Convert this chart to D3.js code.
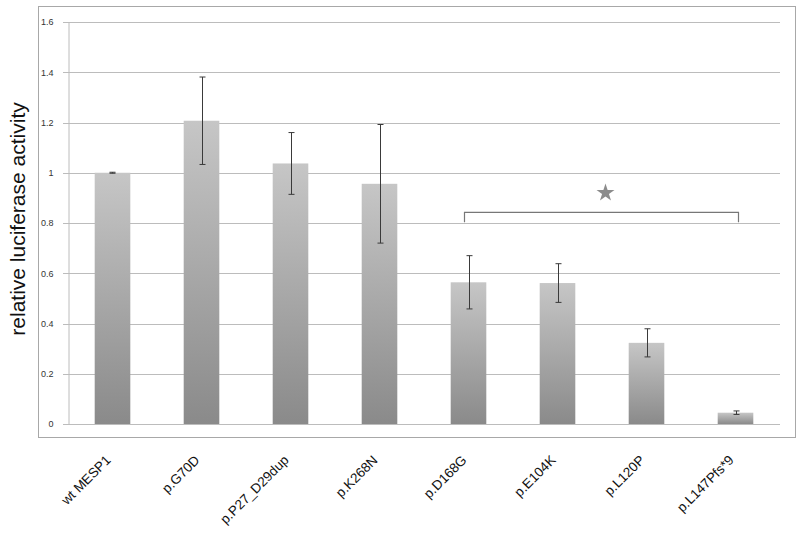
<!DOCTYPE html>
<html>
<head>
<meta charset="utf-8">
<script src="https://cdn.jsdelivr.net/npm/d3@7"></script>
<style>
  body { margin: 0; background: #fff; }
  svg { display: block; font-family: "Liberation Sans", Arial, sans-serif; }
</style>
</head>
<body>
<svg id="chart" width="800" height="533"></svg>
<script>
const categories = ["wt MESP1", "p.G70D", "p.P27_D29dup", "p.K268N", "p.D168G", "p.E104K", "p.L120P", "p.L147Pfs*9"];
const values = [1.0, 1.207, 1.037, 0.956, 0.564, 0.561, 0.323, 0.045];
const errors = [0.002, 0.174, 0.123, 0.236, 0.106, 0.077, 0.056, 0.007];
const yTicks = [0, 0.2, 0.4, 0.6, 0.8, 1, 1.2, 1.4, 1.6];
const bracket = { from: "p.D168G", to: "p.L147Pfs*9", level: 0.842, foot: 0.803, star: 0.92 };

const svg = d3.select("#chart");
const margin = { top: 22, right: 20, bottom: 109, left: 68 };
const width = 800, height = 533;

// outer chart frame
svg.append("rect")
  .attr("x", 38.5).attr("y", 6.5)
  .attr("width", 757).attr("height", 431)
  .attr("fill", "none").attr("stroke", "#a8a8a8");

const x = d3.scaleBand()
  .domain(categories)
  .range([margin.left, width - margin.right])
  .paddingInner(0.6).paddingOuter(0.3);

const y = d3.scaleLinear()
  .domain([0, 1.6])
  .range([height - margin.bottom, margin.top]);

// gradient for the bars
const grad = svg.append("defs").append("linearGradient")
  .attr("id", "barGrad").attr("x1", 0).attr("y1", 0).attr("x2", 0).attr("y2", 1);
grad.append("stop").attr("offset", "0%").attr("stop-color", "#c6c6c6");
grad.append("stop").attr("offset", "100%").attr("stop-color", "#8a8a8a");

// gridlines
svg.append("g")
  .selectAll("line")
  .data(yTicks)
  .join("line")
  .attr("x1", margin.left - 5).attr("x2", width - margin.right)
  .attr("y1", d => Math.round(y(d)) + 0.5).attr("y2", d => Math.round(y(d)) + 0.5)
  .attr("stroke", "#bcbcbc");

// y axis
const yAxis = svg.append("g")
  .attr("transform", `translate(${margin.left + 0.5},0)`)
  .call(d3.axisLeft(y).tickValues(yTicks).tickSize(0).tickPadding(15).tickFormat(d3.format("")));
yAxis.select(".domain").attr("stroke", "#bcbcbc");
yAxis.selectAll("text").attr("font-size", 9).attr("fill", "#333")
  .attr("font-family", "'Liberation Sans', Arial, sans-serif");

// bars
svg.append("g")
  .selectAll("rect")
  .data(categories)
  .join("rect")
  .attr("x", d => x(d))
  .attr("y", (d, i) => y(values[i]))
  .attr("width", x.bandwidth())
  .attr("height", (d, i) => y(0) - y(values[i]))
  .attr("fill", "url(#barGrad)");

// error bars
const eb = svg.append("g").attr("stroke", "#3a3a3a").attr("stroke-width", 1);
categories.forEach((c, i) => {
  const cx = Math.round(x(c) + x.bandwidth() / 2) + 0.5;
  const top = y(values[i] + errors[i]), bot = y(values[i] - errors[i]);
  eb.append("line").attr("x1", cx).attr("x2", cx).attr("y1", top).attr("y2", bot);
  eb.append("line").attr("x1", cx - 3).attr("x2", cx + 3).attr("y1", top).attr("y2", top);
  eb.append("line").attr("x1", cx - 3).attr("x2", cx + 3).attr("y1", bot).attr("y2", bot);
});

// significance bracket + star
const bx1 = x(bracket.from) + x.bandwidth() / 2 - 4;
const bx2 = x(bracket.to) + x.bandwidth() / 2 + 3;
svg.append("path")
  .attr("d", `M${bx1},${y(bracket.foot)}V${y(bracket.level)}H${bx2}V${y(bracket.foot)}`)
  .attr("fill", "none").attr("stroke", "#777").attr("stroke-width", 1.2);
svg.append("path")
  .attr("d", d3.symbol(d3.symbolStar, 100)())
  .attr("transform", `translate(${(bx1 + bx2) / 2 + 4},${y(bracket.star)})`)
  .attr("fill", "#8c8c8c");

// x labels
svg.append("g")
  .selectAll("text")
  .data(categories)
  .join("text")
  .attr("transform", d => `translate(${x(d) + x.bandwidth() / 2 - 1},${height - margin.bottom + 37}) rotate(-45)`)
  .attr("text-anchor", "end")
  .attr("font-size", 13.5)
  .attr("fill", "#111")
  .text(d => d);

// y title
svg.append("text")
  .attr("transform", `translate(25,${(y(0) + y(1.6)) / 2 - 4}) rotate(-90)`)
  .attr("text-anchor", "middle")
  .attr("font-size", 21)
  .attr("fill", "#111")
  .text("relative luciferase activity");
</script>
</body>
</html>
